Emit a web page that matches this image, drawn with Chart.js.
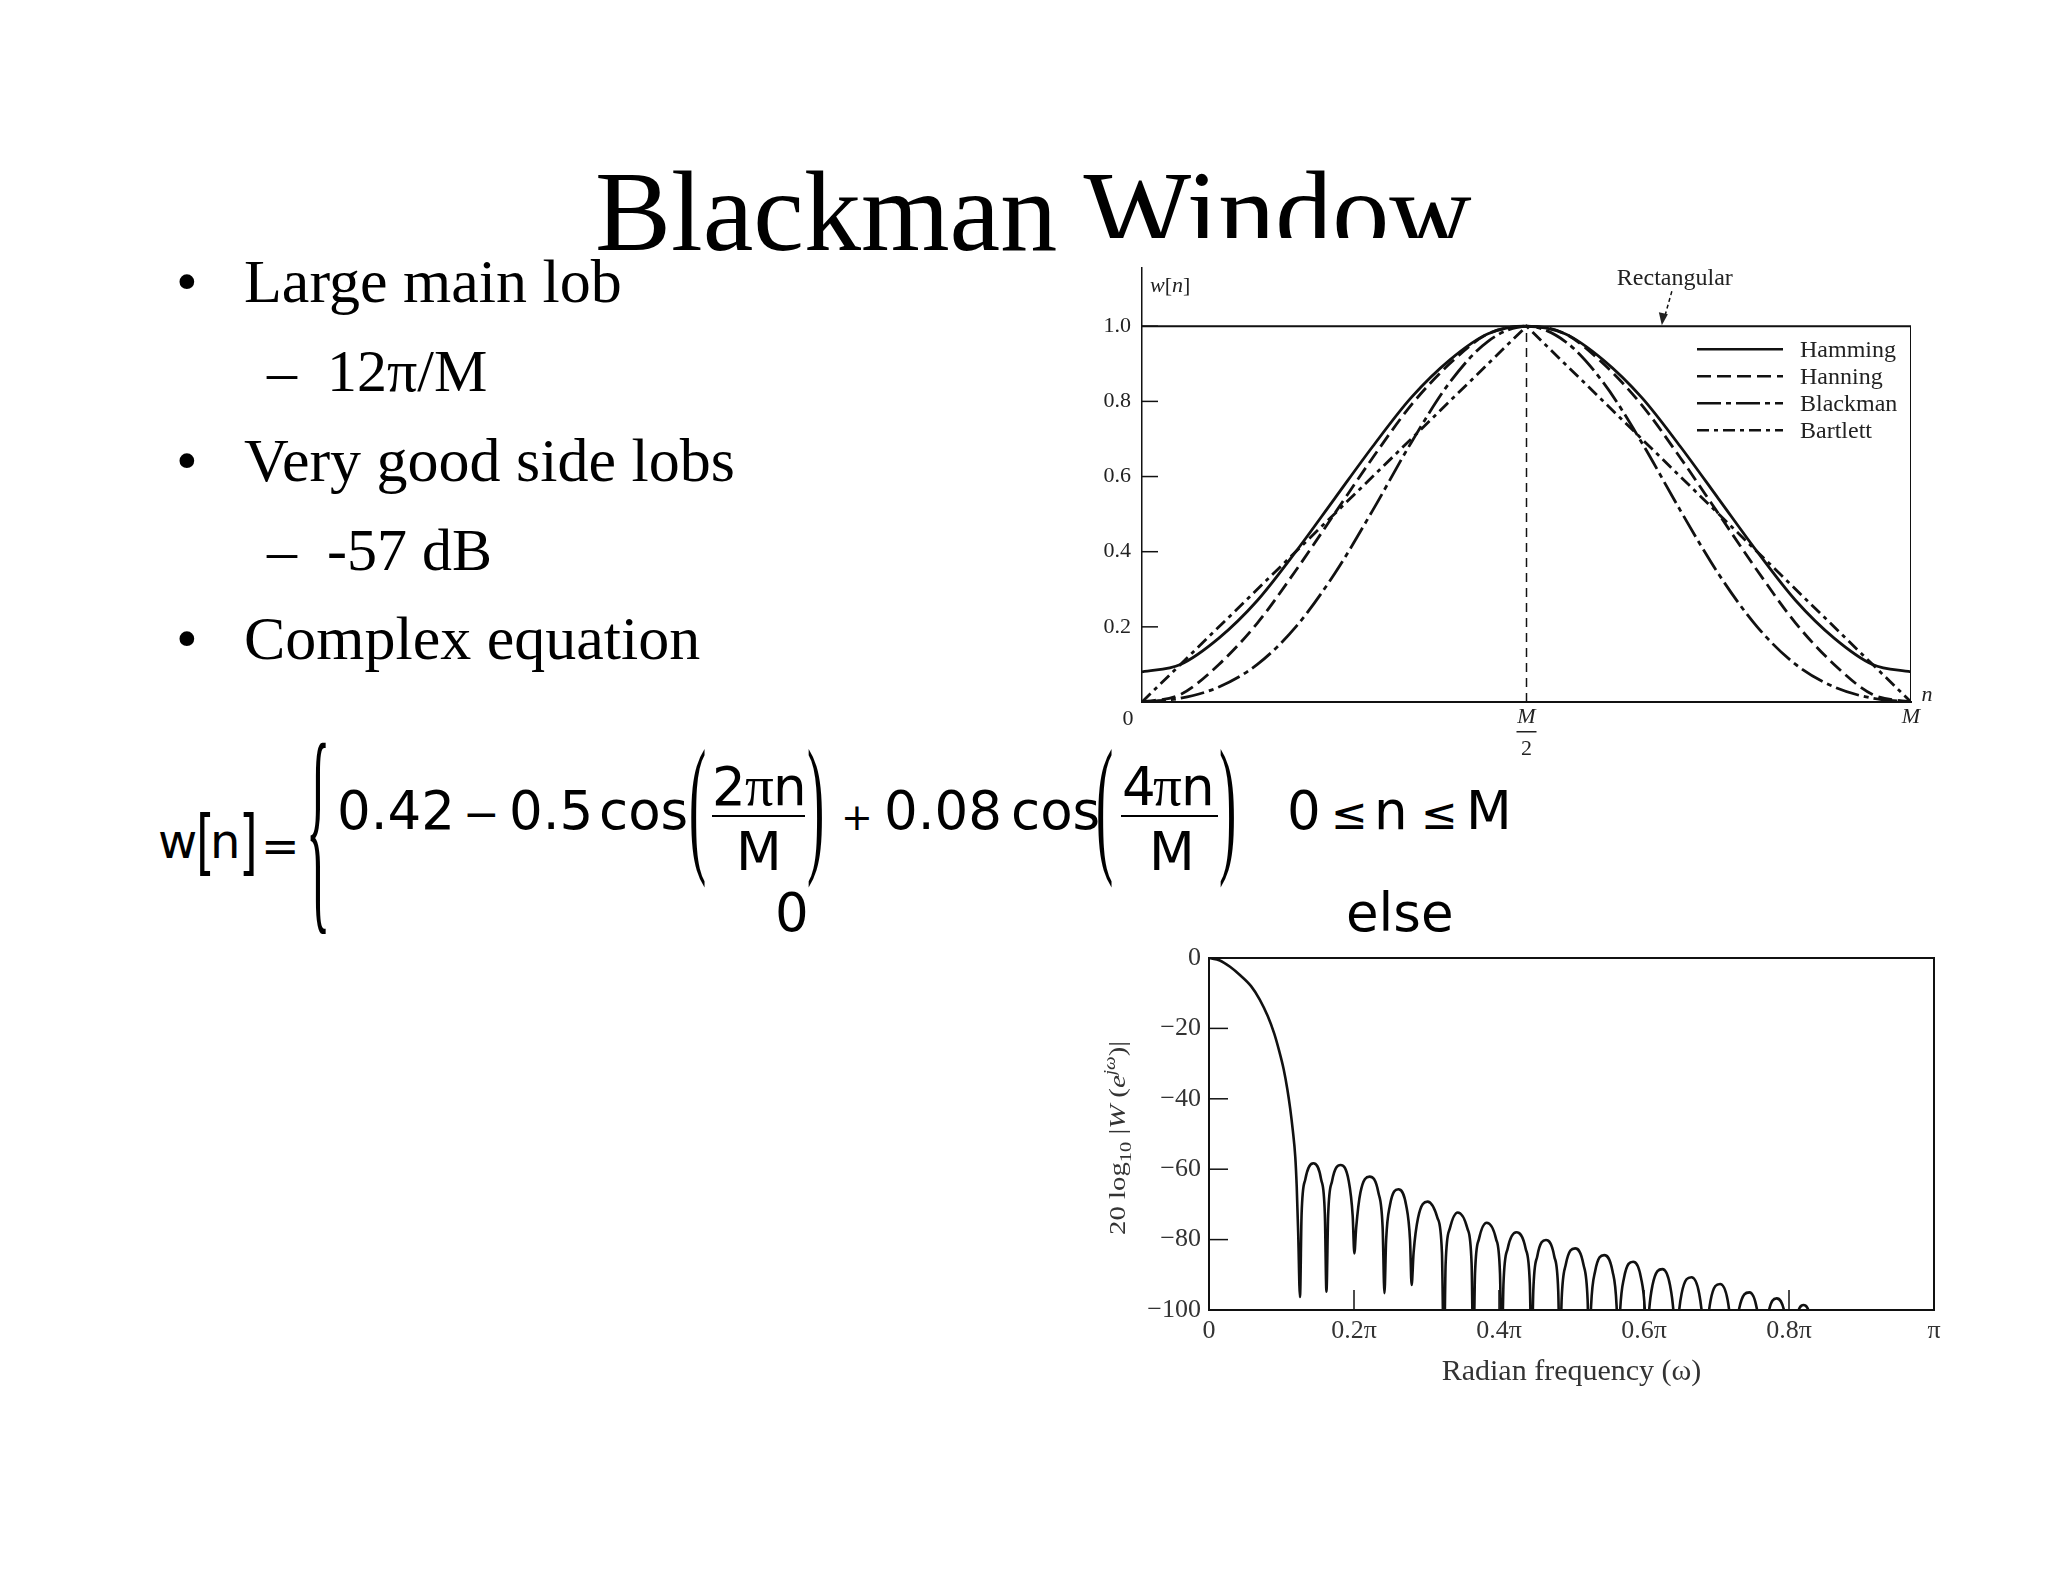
<!DOCTYPE html>
<html>
<head>
<meta charset="UTF-8">
<title>Blackman Window</title>
<script src="https://cdn.jsdelivr.net/npm/chart.js@4.4.1/dist/chart.umd.min.js"></script>
<style>
  html, body { margin: 0; padding: 0; background: #fff; }
  #page { position: relative; width: 2048px; height: 1582px; overflow: hidden; background: #fff; }
  .t { position: absolute; white-space: nowrap; line-height: 1; color: #000; }
  #winChart { position: absolute; left: 1070px; top: 238px; background: #fff; z-index: 2; }
  #specChart { position: absolute; left: 1090px; top: 930px; background: #fff; z-index: 2; }
</style>
</head>
<body>
<div id="page">
  <canvas id="winChart" width="885" height="520"></canvas>
  <canvas id="specChart" width="870" height="470"></canvas>
</div>

<script>
// ---- top chart: window shapes, x = n/M ----
const nFrac     = [0, 0.05, 0.1, 0.15, 0.2, 0.25, 0.3, 0.35, 0.4, 0.45, 0.5, 0.55, 0.6, 0.65, 0.7, 0.75, 0.8, 0.85, 0.9, 0.95, 1];
const hammingW  = [0.08, 0.10, 0.17, 0.27, 0.40, 0.54, 0.68, 0.81, 0.91, 0.98, 1.00, 0.98, 0.91, 0.81, 0.68, 0.54, 0.40, 0.27, 0.17, 0.10, 0.08];
const hanningW  = [0, 0.02, 0.10, 0.21, 0.35, 0.50, 0.65, 0.79, 0.90, 0.98, 1.00, 0.98, 0.90, 0.79, 0.65, 0.50, 0.35, 0.21, 0.10, 0.02, 0];
const blackmanW = [0, 0.01, 0.04, 0.10, 0.20, 0.34, 0.51, 0.69, 0.85, 0.96, 1.00, 0.96, 0.85, 0.69, 0.51, 0.34, 0.20, 0.10, 0.04, 0.01, 0];
const bartlettN = [0, 0.5, 1];
const bartlettW = [0, 1, 0];
const rectN = [0, 1, 1];
const rectW = [1, 1, 0];
const midN = [0.5, 0.5];
const midW = [0, 1];
const winTicks = [0.2, 0.4, 0.6, 0.8, 1.0];
const legendNames = ['Hamming', 'Hanning', 'Blackman', 'Bartlett'];

// ---- bottom chart: Blackman magnitude response, x = omega/pi, y = dB ----
const specFreq = [
  0, 0.015, 0.029, 0.043, 0.058, 0.07, 0.081, 0.09, 0.0964, 0.103, 0.108, 0.112, 0.1156, 0.119, 0.121, 0.123, 0.1255,
  0.1277, 0.1328, 0.144, 0.1547, 0.1598, 0.162,
  0.1643, 0.1697, 0.1815, 0.1928, 0.1982, 0.2005,
  0.203, 0.2088, 0.2215, 0.2337, 0.2395, 0.242,
  0.2443, 0.2495, 0.2612, 0.272, 0.2773, 0.2795,
  0.2822, 0.2884, 0.3015, 0.3151, 0.3213, 0.324,
  0.3264, 0.3321, 0.343, 0.3565, 0.3622, 0.3646,
  0.3669, 0.3724, 0.383, 0.3959, 0.4014, 0.4037,
  0.4062, 0.412, 0.424, 0.4367, 0.4425, 0.445,
  0.4473, 0.4528, 0.4648, 0.4762, 0.4817, 0.484,
  0.4864, 0.4921, 0.505, 0.5165, 0.5222, 0.5246,
  0.527, 0.5326, 0.545, 0.5566, 0.5622, 0.5646,
  0.5669, 0.5724, 0.585, 0.5959, 0.6014, 0.6037,
  0.6061, 0.6117, 0.6255, 0.6359, 0.6415, 0.6439,
  0.6463, 0.6519, 0.6655, 0.6761, 0.6817, 0.6841,
  0.6864, 0.6919, 0.705, 0.7154, 0.7209, 0.7232,
  0.7256, 0.7313, 0.7455, 0.7556, 0.7613, 0.7637,
  0.7659, 0.7712, 0.783, 0.7945, 0.8003, 0.8025,
  0.8046, 0.8095, 0.82, 0.8305, 0.8354, 0.8375,
  1.0
];
const specDb = [
  0, -0.7, -2.5, -4.9, -8.0, -11.8, -16.5, -21.5, -26.1, -31.6, -37.2, -42.8, -49, -56.5, -65, -78, -96.3,
  -72.8, -62.9, -58.3, -62.9, -72.8, -94.8,
  -73.3, -63.4, -58.8, -63.4, -73.3, -83.9,
  -76.6, -66.7, -62.1, -66.7, -76.6, -95.2,
  -80.2, -70.3, -65.7, -70.3, -80.2, -92.9,
  -83.7, -73.8, -69.2, -73.8, -83.7, -115,
  -86.8, -76.9, -72.3, -76.9, -86.8, -115,
  -89.7, -79.8, -75.2, -79.8, -89.7, -115,
  -92.4, -82.5, -77.9, -82.5, -92.4, -115,
  -94.6, -84.7, -80.1, -84.7, -94.6, -115,
  -97, -87.1, -82.5, -87.1, -97, -115,
  -98.9, -89, -84.4, -89, -98.9, -115,
  -100.8, -90.9, -86.3, -90.9, -100.8, -115,
  -102.9, -93, -88.4, -93, -102.9, -115,
  -105.2, -95.3, -90.7, -95.3, -105.2, -115,
  -107.1, -97.2, -92.6, -97.2, -107.1, -115,
  -109.5, -99.6, -95, -99.6, -109.5, -115,
  -111, -101.3, -96.7, -101.3, -111, -115,
  -113, -103.2, -98.6, -103.2, -113, -115,
  -120
];
const specYTitle = [['20 log', 24], ['10', 17, '', 6], [' |', 24], ['W', 24, 'italic'], [' (', 24], ['e', 24, 'italic'], ['jω', 16, 'italic', -10], [')|', 24]];

const SERIF = '"Liberation Serif", "Times New Roman", serif';
const SANS = '"DejaVu Sans", Verdana, sans-serif';
const pairs = (xs, ys) => xs.map((x, i) => ({x: x, y: ys[i]}));

// draw a row of text pieces with their own size / style, left to right
function richText(ctx, parts, x, y, align) {
  let w = 0;
  parts.forEach(p => { ctx.font = (p[2] || '') + ' ' + p[1] + 'px ' + SERIF; w += ctx.measureText(p[0]).width; });
  let cx = align === 'center' ? x - w / 2 : (align === 'right' ? x - w : x);
  ctx.textAlign = 'left';
  ctx.textBaseline = 'alphabetic';
  parts.forEach(p => {
    ctx.font = (p[2] || '') + ' ' + p[1] + 'px ' + SERIF;
    ctx.fillText(p[0], cx, y + (p[3] || 0));
    cx += ctx.measureText(p[0]).width;
  });
}

// ---- slide text ----
const page = document.getElementById('page');
function put(txt, x, base, size, fam, extra) {
  const s = document.createElement('span');
  s.className = 't';
  s.textContent = txt;
  const asc = fam === SERIF ? 0.8375 : 0.846;
  s.style.left = x + 'px';
  s.style.top = (base - asc * size) + 'px';
  s.style.fontSize = size + 'px';
  s.style.fontFamily = fam;
  s.style.zIndex = 3;
  if (extra) Object.assign(s.style, extra);
  page.appendChild(s);
  return s;
}

put('Blackman Window', 595, 250, 114, SERIF, {zIndex: 1});

put('•', 176, 302, 62, SERIF); put('Large main lob', 244, 302, 62, SERIF);
put('–', 267, 391, 60, SERIF); put('12π/M', 327, 391, 60, SERIF);
put('•', 176, 481, 62, SERIF); put('Very good side lobs', 244, 481, 62, SERIF);
put('–', 267, 570, 60, SERIF); put('-57 dB', 327, 570, 60, SERIF);
put('•', 176, 659, 62, SERIF); put('Complex equation', 244, 659, 62, SERIF);

// equation
const EQ = 53;
put('w', 158, 858, 48, SANS);
put('[', 196, 857, 48, SANS, {transform: 'scaleY(1.5)'});
put('n', 210, 858, 48, SANS);
put(']', 239, 857, 48, SANS, {transform: 'scaleY(1.5)'});
put('=', 261, 862, 46, SANS);
put('{', 306, 745 - 34 + 0.8375 * 230, 230, SERIF, {transform: 'scaleX(0.22)', transformOrigin: 'left top'});
put('0.42', 337, 829, EQ, SANS);
put('−', 463, 829, 44, SANS);
put('0.5', 509, 829, EQ, SANS);
put('cos', 599, 829, EQ, SANS);
const PAR = 152, parBase = 752 - 24.5 + 0.8375 * PAR;
const parStyle = {transform: 'scaleX(0.34)', transformOrigin: 'left top'};
put('(', 689, parBase, PAR, SERIF, parStyle);
put('2', 712, 805, EQ, SANS);
put('π', 745, 805, EQ + 4, SERIF);
put('n', 773, 805, EQ, SANS);
put('M', 736, 870, EQ, SANS);
put(')', 807, parBase, PAR, SERIF, parStyle);
put('+', 841, 830, 38, SANS);
put('0.08', 884, 829, EQ, SANS);
put('cos', 1011, 829, EQ, SANS);
put('(', 1096, parBase, PAR, SERIF, parStyle);
put('4', 1122, 805, EQ, SANS);
put('π', 1153, 805, EQ + 4, SERIF);
put('n', 1181, 805, EQ, SANS);
put('M', 1149, 870, EQ, SANS);
put(')', 1219, parBase, PAR, SERIF, parStyle);
put('0', 1287, 829, EQ, SANS);
put('≤', 1331, 829, 44, SANS);
put('n', 1374, 829, EQ, SANS);
put('≤', 1421, 829, 44, SANS);
put('M', 1466, 829, EQ, SANS);
put('0', 775, 931, EQ, SANS);
put('else', 1346, 931, EQ, SANS);
[[712, 93], [1121, 97]].forEach(b => {
  const d = document.createElement('div');
  d.style.cssText = 'position:absolute;z-index:3;height:2px;background:#000;left:' + b[0] + 'px;top:815px;width:' + b[1] + 'px';
  page.appendChild(d);
});

// ---- top chart decorations ----
const winDecor = {
  id: 'winDecor',
  afterDraw(chart) {
    const {ctx, chartArea: a, scales: {x, y}} = chart;
    const y0 = y.getPixelForValue(0), y1 = y.getPixelForValue(1);
    ctx.save();
    ctx.strokeStyle = '#111';
    ctx.fillStyle = '#222';
    ctx.lineWidth = 1.5;
    winTicks.forEach(v => {
      const py = y.getPixelForValue(v);
      ctx.beginPath(); ctx.moveTo(a.left, py); ctx.lineTo(a.left + 16, py); ctx.stroke();
    });

    richText(ctx, [['0', 22]], x.getPixelForValue(0) - 14, y0 + 23, 'center');
    const xm = x.getPixelForValue(0.5);
    richText(ctx, [['M', 22, 'italic']], xm, y0 + 21, 'center');
    ctx.fillRect(xm - 10, y0 + 29, 20, 1.5);
    richText(ctx, [['2', 22]], xm, y0 + 53, 'center');
    richText(ctx, [['M', 22, 'italic']], x.getPixelForValue(1), y0 + 21, 'center');
    richText(ctx, [['n', 22, 'italic']], x.getPixelForValue(1) + 16, y0 - 1, 'center');
    richText(ctx, [['w', 22, 'italic'], ['[', 22], ['n', 22, 'italic'], [']', 22]], a.left + 8, a.top + 24, 'left');

    // "Rectangular" callout
    const xr = x.getPixelForValue(0.676);
    richText(ctx, [['Rectangular', 24]], xr - 45, y1 - 41, 'left');
    ctx.setLineDash([4, 3]);
    ctx.beginPath(); ctx.moveTo(xr + 10, y1 - 35); ctx.lineTo(xr + 3, y1 - 10); ctx.stroke();
    ctx.setLineDash([]);
    ctx.beginPath(); ctx.moveTo(xr, y1 - 1); ctx.lineTo(xr - 3, y1 - 14); ctx.lineTo(xr + 6, y1 - 12); ctx.closePath(); ctx.fill();

    // legend
    chart.data.datasets.filter(d => legendNames.includes(d.label)).forEach((d, i) => {
      const ly = y1 + 23 + i * 27;
      ctx.setLineDash(d.borderDash || []);
      ctx.lineWidth = 2.5;
      ctx.beginPath(); ctx.moveTo(a.right - 214, ly); ctx.lineTo(a.right - 128, ly); ctx.stroke();
      ctx.setLineDash([]);
      richText(ctx, [[d.label, 24]], a.right - 111, ly + 8, 'left');
    });
    ctx.restore();
  }
};

const lineBase = {borderColor: '#111', pointRadius: 0, fill: false};

new Chart('winChart', {
  type: 'line',
  data: {
    datasets: [
      Object.assign({label: 'Rectangular', data: pairs(rectN, rectW), borderWidth: 2, tension: 0}, lineBase),
      Object.assign({label: 'M/2', data: pairs(midN, midW), borderWidth: 1.5, borderDash: [9, 6], tension: 0}, lineBase),
      Object.assign({label: 'Hamming', data: pairs(nFrac, hammingW), borderWidth: 2.8, cubicInterpolationMode: 'monotone'}, lineBase),
      Object.assign({label: 'Hanning', data: pairs(nFrac, hanningW), borderWidth: 2.8, borderDash: [14, 6], cubicInterpolationMode: 'monotone'}, lineBase),
      Object.assign({label: 'Blackman', data: pairs(nFrac, blackmanW), borderWidth: 2.8, borderDash: [24, 5, 5, 5], cubicInterpolationMode: 'monotone'}, lineBase),
      Object.assign({label: 'Bartlett', data: pairs(bartlettN, bartlettW), borderWidth: 2.8, borderDash: [12, 5, 4, 5], tension: 0}, lineBase)
    ]
  },
  options: {
    responsive: false,
    animation: false,
    layout: {padding: {left: 0, top: 30, right: 44, bottom: 0}},
    plugins: {legend: {display: false}, tooltip: {enabled: false}},
    scales: {
      x: {
        type: 'linear', min: 0, max: 1,
        grid: {display: false, drawTicks: false},
        border: {color: '#111', width: 2},
        ticks: {display: false},
        afterFit(s) { s.height = 56; }
      },
      y: {
        min: 0, max: 1.155,
        grid: {display: false, drawTicks: false},
        border: {color: '#111', width: 1.5},
        ticks: {padding: 11, color: '#222', font: {family: SERIF, size: 22}, callback: v => v.toFixed(1)},
        afterBuildTicks(s) { s.ticks = winTicks.map(v => ({value: v})); },
        afterFit(s) { s.width = 72; }
      }
    }
  },
  plugins: [winDecor]
});

// ---- bottom chart decorations ----
const specDecor = {
  id: 'specDecor',
  afterDatasetsDraw(chart) {
    const {ctx, chartArea: a, scales: {x, y}} = chart;
    ctx.save();
    ctx.strokeStyle = '#111';
    ctx.lineWidth = 2;
    ctx.strokeRect(a.left, a.top, a.right - a.left, a.bottom - a.top);
    ctx.lineWidth = 1.5;
    y.ticks.forEach(t => {
      const py = y.getPixelForValue(t.value);
      ctx.beginPath(); ctx.moveTo(a.left, py); ctx.lineTo(a.left + 19, py); ctx.stroke();
    });
    x.ticks.forEach(t => {
      const px = x.getPixelForValue(t.value);
      ctx.beginPath(); ctx.moveTo(px, a.bottom); ctx.lineTo(px, a.bottom - 20); ctx.stroke();
    });
    ctx.translate(a.left - 92, (a.top + a.bottom) / 2 + 4);
    ctx.rotate(-Math.PI / 2);
    ctx.scale(1.2, 1);
    ctx.fillStyle = '#333';
    richText(ctx, specYTitle, 0, 8, 'center');
    ctx.restore();
  }
};

new Chart('specChart', {
  type: 'line',
  data: {
    datasets: [
      Object.assign({label: 'Blackman', data: pairs(specFreq, specDb), borderWidth: 2.6, cubicInterpolationMode: 'monotone'}, lineBase)
    ]
  },
  options: {
    responsive: false,
    animation: false,
    layout: {padding: {left: 0, top: 28, right: 26, bottom: 0}},
    plugins: {legend: {display: false}, tooltip: {enabled: false}},
    scales: {
      x: {
        type: 'linear', min: 0, max: 1,
        grid: {display: false, drawTicks: false},
        border: {color: '#111', width: 2},
        ticks: {
          stepSize: 0.2, padding: 6, color: '#333', maxRotation: 0,
          font: {family: SERIF, size: 26},
          callback: v => v === 0 ? '0' : (Math.abs(v - 1) < 1e-9 ? 'π' : v.toFixed(1) + 'π')
        },
        title: {display: true, text: 'Radian frequency (ω)', color: '#333', font: {family: SERIF, size: 30}, padding: {top: 0, bottom: 10}},
        afterFit(s) { s.height = 90; }
      },
      y: {
        min: -100, max: 0,
        grid: {display: false, drawTicks: false},
        border: {color: '#111', width: 2},
        ticks: {
          stepSize: 20, padding: 8, color: '#333',
          font: {family: SERIF, size: 26},
          callback: v => v < 0 ? '−' + (-v) : String(v)
        },
        afterFit(s) { s.width = 119; }
      }
    }
  },
  plugins: [specDecor]
});
</script>
</body>
</html>
